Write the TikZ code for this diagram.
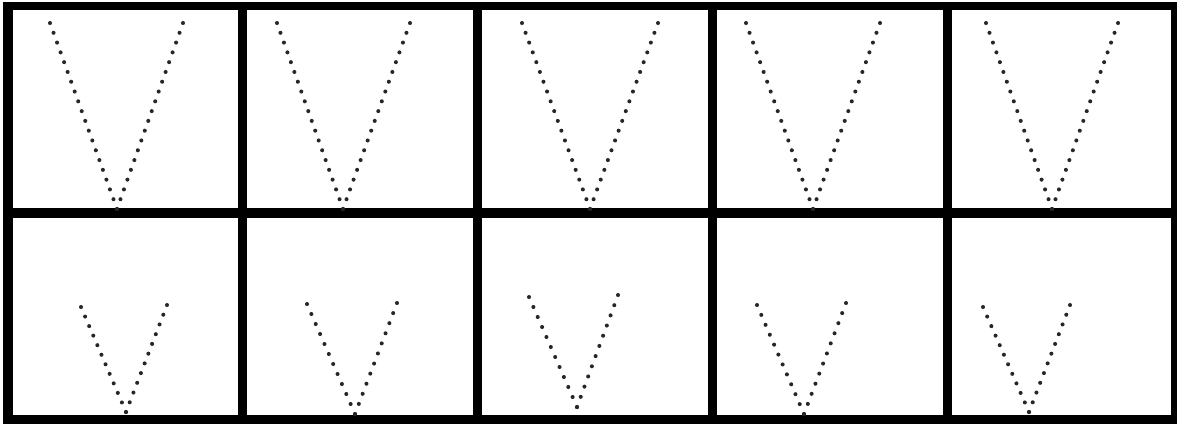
\documentclass[tikz,border=0pt]{standalone}
\usetikzlibrary{calc}

\begin{document}
\begin{tikzpicture}[
    x=0.02cm, y=-0.02cm,
    panel/.style={fill=white},
    spot/.style={fill=black!85}
]
\useasboundingbox (0,0) rectangle (1177,424);

% frame
\fill[black] (3,2) rectangle (1177,424);
\foreach \xa/\xb in {13/238, 247/473, 482/708, 717/943, 952/1171} {
  \fill[panel] (\xa,10) rectangle (\xb,208);
  \fill[panel] (\xa,218) rectangle (\xb,415);
}

% top row
\foreach \lx/\rx/\bx [count=\k] in {50/183/117, 277/410/343, 522/658/590, 746/880/813, 986/1118/1052} {
  \coordinate (tl\k) at (\lx,23);
  \coordinate (tr\k) at (\rx,23);
  \coordinate (tb\k) at (\bx,209);
  \foreach \i in {0,...,19} {
    \fill[spot] ($(tl\k)!\i/19!(tb\k)$) circle (1.15pt);
    \fill[spot] ($(tr\k)!\i/19!(tb\k)$) circle (1.15pt);
  }
}

% bottom row
\foreach \lx/\ly/\rx/\ry/\bx/\by [count=\k] in {81/307/167/305/126/412, 307/304/397/303/355/414,
    529/297/618/295/577/407, 757/305/846/303/804/414, 983/307/1070/305/1029/412} {
  \coordinate (bl\k) at (\lx,\ly);
  \coordinate (br\k) at (\rx,\ry);
  \coordinate (bb\k) at (\bx,\by);
  \foreach \i in {0,...,11} {
    \fill[spot] ($(bl\k)!\i/11!(bb\k)$) circle (1.15pt);
    \fill[spot] ($(br\k)!\i/11!(bb\k)$) circle (1.15pt);
  }
}

\end{tikzpicture}
\end{document}
